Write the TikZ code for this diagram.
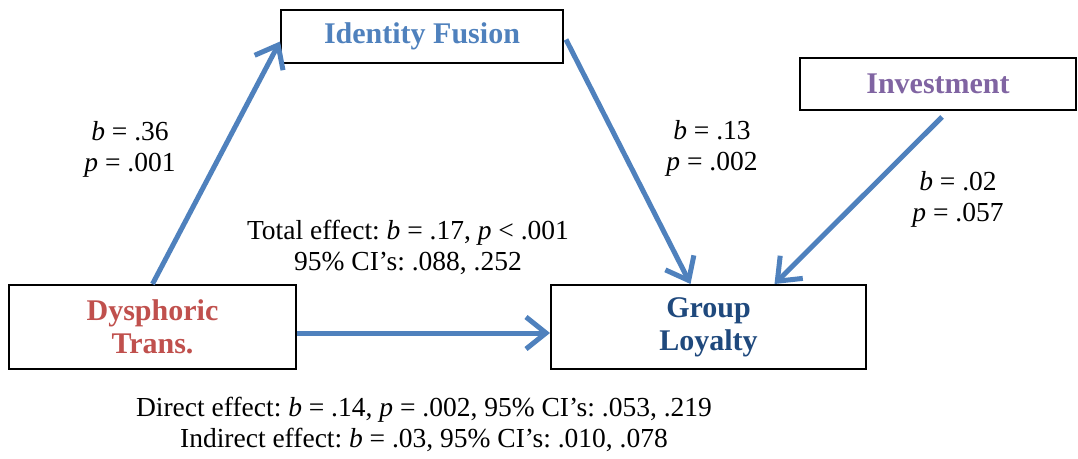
\documentclass[tikz,border=0pt]{standalone}
\usepackage{fontspec}
\setmainfont{Liberation Serif}
\usetikzlibrary{arrows.meta}
\definecolor{ablue}{HTML}{4F81BD}
\definecolor{dred}{HTML}{C0504D}
\definecolor{dnavy}{HTML}{1F497D}
\definecolor{purp}{HTML}{8064A2}
\tikzset{
  box/.style={draw=black, line width=2pt, fill=white, inner sep=0pt, align=center, font=\fontsize{30}{33}\selectfont\bfseries},
  conn/.style={draw=ablue, line width=5pt, -{Straight Barb[length=20pt,width=32pt,line width=5pt]}},
  lab/.style={align=center, font=\fontsize{27.5}{31}\selectfont\frenchspacing, inner sep=0pt},
}
\begin{document}
\begin{tikzpicture}[x=1pt,y=-1pt]
\useasboundingbox (0,0) rectangle (1078,458);
\node[box, minimum width=282pt, minimum height=53pt, text=ablue] (fusion) at (422,36.5) {Identity Fusion};
\node[box, minimum width=276pt, minimum height=52pt, text=purp] (invest) at (938,84) {Investment};
\node[box, minimum width=287pt, minimum height=84pt, text=dred] (dys) at (152.5,327) {Dysphoric\\Trans.};
\node[box, minimum width=315pt, minimum height=84pt, text=dnavy] (loyal) at (708.5,327) {Group\\Loyalty};

\draw[conn] (dys.north) -- ([yshift=-5pt]fusion.west);
\draw[conn] ([xshift=2pt,yshift=-3pt]fusion.east) -- ([xshift=-18pt]loyal.north);
\draw[conn] ([xshift=4pt,yshift=-6pt]invest.south) -- ([xshift=66pt]loyal.north);
\draw[conn] ([yshift=-6pt]dys.east) -- ([yshift=-6pt]loyal.west);

\node[lab] (l1) at (130,149) {\textit{b} = .36\\\textit{p} = .001};
\node[lab] (l2) at (712,148) {\textit{b} = .13\\\textit{p} = .002};
\node[lab] (l3) at (958,199) {\textit{b} = .02\\\textit{p} = .057};
\node[lab] (tot) at (408,247) {Total effect: \textit{b} = .17, \textit{p} < .001\\95\% CI’s: .088, .252};
\node[lab] (dir) at (424,424) {Direct effect: \textit{b} = .14, \textit{p} = .002, 95\% CI’s: .053, .219\\Indirect effect: \textit{b} = .03, 95\% CI’s: .010, .078};
\end{tikzpicture}
\end{document}
